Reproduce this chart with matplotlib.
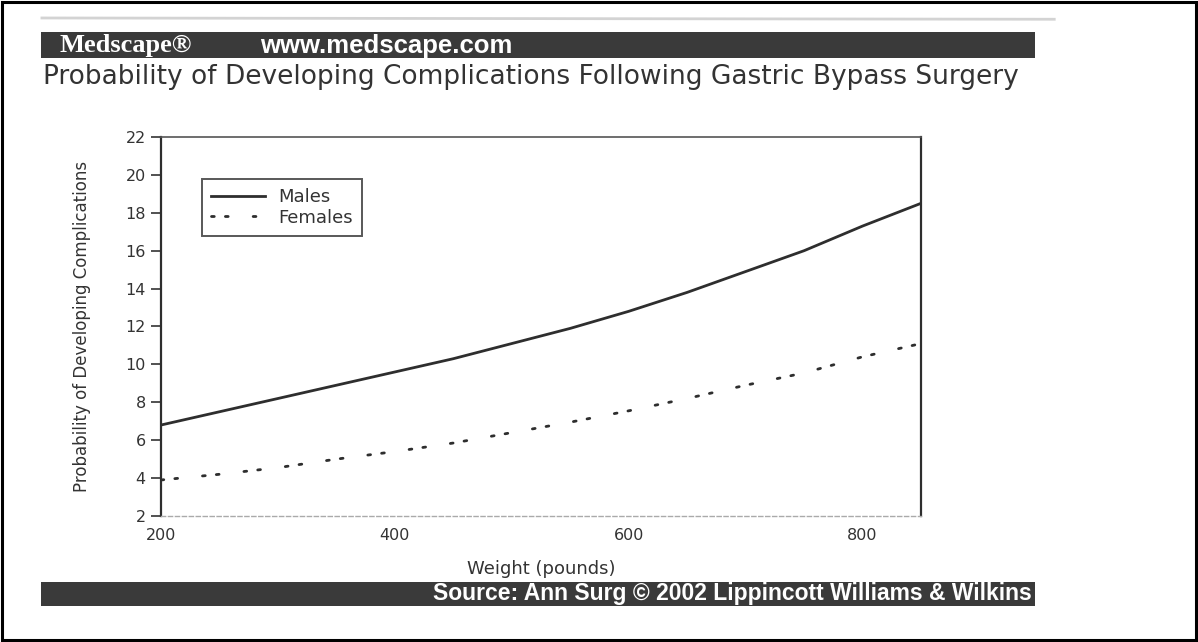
"""
Probability of developing complications after gastric bypass surgery,
by body weight, for males and females (Medscape / Ann Surg 2002 figure).
"""

import matplotlib
matplotlib.use("Agg")
import matplotlib.pyplot as plt
from matplotlib.patches import Rectangle

# data
weight_lb = [200, 250, 300, 350, 400, 450, 500, 550, 600, 650, 700, 750, 800, 850]
males = [6.8, 7.5, 8.2, 8.9, 9.6, 10.3, 11.1, 11.9, 12.8, 13.8, 14.9, 16.0, 17.3, 18.5]
females = [3.9, 4.2, 4.55, 5.0, 5.4, 5.85, 6.4, 6.95, 7.55, 8.2, 8.9, 9.55, 10.4, 11.1]

x_ticks = [200, 400, 600, 800]
y_ticks = [2, 4, 6, 8, 10, 12, 14, 16, 18, 20, 22]

INK = "#333333"
BAR = "#3a3a3a"


def make_chart():
    fig = plt.figure(figsize=(11.98, 6.42), dpi=100)
    fig.patch.set_facecolor("white")

    # outer frame of the scan
    fig.add_artist(Rectangle((0.002, 0.003), 0.996, 0.994, transform=fig.transFigure,
                             fill=False, edgecolor="black", linewidth=2.2))

    # faint scan smudge above the header
    fig.add_artist(plt.Line2D([0.035, 0.88], [0.972, 0.970], transform=fig.transFigure,
                              color="#a8a8a8", linewidth=2, alpha=0.5))

    # header bar
    fig.add_artist(Rectangle((0.034, 0.909), 0.830, 0.041, transform=fig.transFigure,
                             facecolor=BAR, edgecolor="none"))
    fig.text(0.050, 0.929, "Medscape®", color="white", fontsize=19, fontweight="bold",
             family="Liberation Serif", va="center", ha="left")
    fig.text(0.217, 0.929, "www.medscape.com", color="white", fontsize=18.5, fontweight="bold",
             family="Liberation Sans", va="center", ha="left")

    # title line under the header
    fig.text(0.036, 0.880, "Probability of Developing Complications Following Gastric Bypass Surgery",
             color=INK, fontsize=19, family="DejaVu Sans", va="center", ha="left")

    # footer bar
    fig.add_artist(Rectangle((0.034, 0.056), 0.830, 0.038, transform=fig.transFigure,
                             facecolor=BAR, edgecolor="none"))
    fig.text(0.861, 0.075, "Source: Ann Surg © 2002 Lippincott Williams & Wilkins",
             color="white", fontsize=16.5, fontweight="bold", family="Liberation Sans",
             va="center", ha="right")

    # plot area
    ax = fig.add_axes([0.1344, 0.1963, 0.6344, 0.5903])
    ax.plot(weight_lb, males, color="#2e2e2e", linewidth=2.0, label="Males")
    ax.plot(weight_lb, females, color="#2e2e2e", linewidth=2.0,
            linestyle=(0, (1, 4, 1, 9)), dash_capstyle="round", label="Females")

    ax.set_xlim(200, 850)
    ax.set_ylim(2, 22)
    ax.set_xticks(x_ticks)
    ax.set_yticks(y_ticks)
    ax.tick_params(axis="y", direction="out", length=7, width=1.2, colors=INK, labelsize=11.5, pad=4)
    ax.tick_params(axis="x", direction="out", length=0, colors=INK, labelsize=11.5, pad=9)

    ax.spines["left"].set_color("#2e2e2e")
    ax.spines["left"].set_linewidth(1.6)
    ax.spines["right"].set_color("#2e2e2e")
    ax.spines["right"].set_linewidth(1.6)
    ax.spines["top"].set_color("#555555")
    ax.spines["top"].set_linewidth(1.2)
    ax.spines["top"].set_linestyle((0, (8, 1)))
    ax.spines["bottom"].set_color("#aaaaaa")
    ax.spines["bottom"].set_linewidth(1.0)
    ax.spines["bottom"].set_linestyle((0, (3, 2)))

    ax.set_xlabel("Weight (pounds)", fontsize=13, color=INK, labelpad=12)
    ax.set_ylabel("Probability of Developing Complications", fontsize=12, color=INK, labelpad=25)

    leg = ax.legend(loc="upper left", bbox_to_anchor=(0.054, 0.889), fontsize=13,
                    frameon=True, fancybox=False, borderpad=0.5, handlelength=3.0,
                    handletextpad=0.7, labelspacing=0.15, borderaxespad=0)
    leg.get_frame().set_edgecolor("#2e2e2e")
    leg.get_frame().set_linewidth(1.4)
    for txt in leg.get_texts():
        txt.set_color(INK)

    fig.savefig("out.png", dpi=100)


if __name__ == "__main__":
    make_chart()
